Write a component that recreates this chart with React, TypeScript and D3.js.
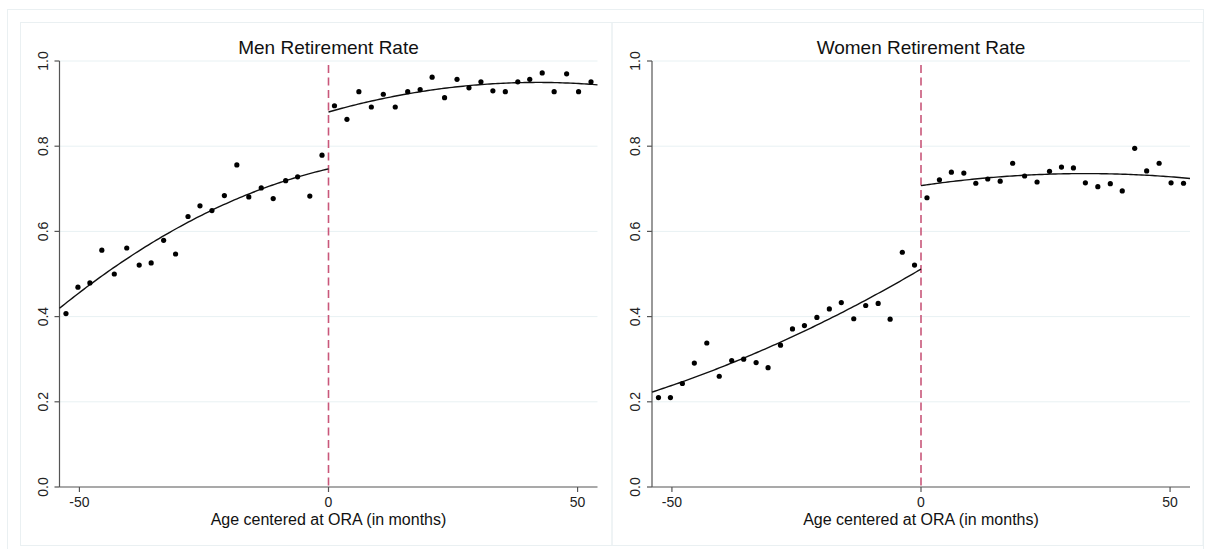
import React from "react";
import * as d3 from "d3";

const xLeft = [-52.7, -50.3, -47.9, -45.5, -43.0, -40.5, -38.0, -35.6, -33.1, -30.7, -28.2, -25.8, -23.4, -20.9, -18.4, -16.0, -13.5, -11.1, -8.6, -6.2, -3.75, -1.3];
const xRight = [1.2, 3.7, 6.1, 8.6, 11.0, 13.4, 15.9, 18.4, 20.8, 23.3, 25.8, 28.2, 30.6, 33.0, 35.5, 38.0, 40.4, 42.9, 45.3, 47.8, 50.2, 52.7];

const menBefore = [0.407, 0.469, 0.479, 0.556, 0.5, 0.561, 0.521, 0.526, 0.579, 0.547, 0.635, 0.66, 0.649, 0.684, 0.756, 0.681, 0.702, 0.677, 0.719, 0.728, 0.683, 0.779];
const menAfter = [0.895, 0.863, 0.928, 0.892, 0.922, 0.892, 0.928, 0.933, 0.962, 0.914, 0.957, 0.937, 0.951, 0.93, 0.928, 0.951, 0.957, 0.972, 0.928, 0.97, 0.928, 0.951];
const womenBefore = [0.21, 0.21, 0.243, 0.291, 0.338, 0.26, 0.297, 0.3, 0.292, 0.28, 0.333, 0.371, 0.379, 0.398, 0.418, 0.433, 0.395, 0.426, 0.431, 0.394, 0.551, 0.521];
const womenAfter = [0.679, 0.721, 0.739, 0.737, 0.713, 0.723, 0.718, 0.76, 0.73, 0.716, 0.741, 0.751, 0.749, 0.714, 0.705, 0.712, 0.695, 0.795, 0.742, 0.76, 0.714, 0.713];

const yTicks = [0, 0.2, 0.4, 0.6, 0.8, 1.0];
const xTicks = [-50, 0, 50];
const xDomain: [number, number] = [-54, 54];
const titles = ["Men Retirement Rate", "Women Retirement Rate"];
const xLabel = "Age centered at ORA (in months)";

function quadFit(xs: number[], ys: number[]) {
  // least squares y = a + b x + c x^2
  let s0 = 0, s1 = 0, s2 = 0, s3 = 0, s4 = 0, t0 = 0, t1 = 0, t2 = 0;
  xs.forEach((x, i) => {
    const y = ys[i];
    s0 += 1; s1 += x; s2 += x * x; s3 += x * x * x; s4 += x * x * x * x;
    t0 += y; t1 += x * y; t2 += x * x * y;
  });
  const M = [[s0, s1, s2, t0], [s1, s2, s3, t1], [s2, s3, s4, t2]];
  for (let i = 0; i < 3; i++) {
    for (let k = i + 1; k < 3; k++) {
      const f = M[k][i] / M[i][i];
      for (let j = i; j < 4; j++) M[k][j] -= f * M[i][j];
    }
  }
  const c = M[2][3] / M[2][2];
  const b = (M[1][3] - M[1][2] * c) / M[1][1];
  const a = (M[0][3] - M[0][1] * b - M[0][2] * c) / M[0][0];
  return (x: number) => a + b * x + c * x * x;
}

const FONT = "'Liberation Sans', Arial, Helvetica, sans-serif";
const AXIS = "#555";
const GRID = "#e8f1f3";
const FRAME = "#eaf0f2";

function Panel({ x0, x1, before, after, title }: { x0: number; x1: number; before: number[]; after: number[]; title: string }) {
  const xs = d3.scaleLinear().domain(xDomain).range([x0, x1]);
  const ys = d3.scaleLinear().domain([0, 1]).range([487, 61]);
  const fb = quadFit(xLeft, before);
  const fa = quadFit(xRight, after);
  const line = d3.line<number>().x((d) => xs(d[0])).y((d) => ys(d[1]));
  const sampB = d3.range(0, 101).map((i) => xDomain[0] + (0 - xDomain[0]) * i / 100);
  const sampA = d3.range(0, 101).map((i) => 0 + (xDomain[1] - 0) * i / 100);
  const lb = d3.line<number>().x((d) => xs(d)).y((d) => ys(fb(d)))(sampB) || "";
  const la = d3.line<number>().x((d) => xs(d)).y((d) => ys(fa(d)))(sampA) || "";
  void line;
  const cx = (x0 + x1) / 2;
  return (
    <g>
      {yTicks.filter((t) => t > 0).map((t) => (
        <line key={"g" + t} x1={x0} x2={x1} y1={ys(t)} y2={ys(t)} stroke={GRID} strokeWidth={1} />
      ))}
      <text x={cx} y={54} textAnchor="middle" fontSize={19} fontFamily={FONT} fill="#111">{title}</text>
      {/* axes */}
      <line x1={x0} x2={x0} y1={ys(1)} y2={ys(0)} stroke={AXIS} strokeWidth={1.2} />
      <line x1={x0} x2={x1} y1={ys(0)} y2={ys(0)} stroke={AXIS} strokeWidth={1.2} />
      {yTicks.map((t) => (
        <g key={"y" + t}>
          <line x1={x0 - 5} x2={x0} y1={ys(t)} y2={ys(t)} stroke={AXIS} strokeWidth={1.2} />
          <text transform={`translate(${x0 - 12},${ys(t)}) rotate(-90)`} textAnchor="middle" fontSize={14} fontFamily={FONT} fill="#222">{t.toFixed(1)}</text>
        </g>
      ))}
      {xTicks.map((t) => (
        <g key={"x" + t}>
          <line x1={xs(t)} x2={xs(t)} y1={ys(0)} y2={ys(0) + 5} stroke={AXIS} strokeWidth={1.2} />
          <text x={xs(t)} y={507} textAnchor="middle" fontSize={14} fontFamily={FONT} fill="#222">{t}</text>
        </g>
      ))}
      <text x={cx} y={525} textAnchor="middle" fontSize={16} fontFamily={FONT} fill="#111">{xLabel}</text>
      {/* cutoff */}
      <line x1={xs(0)} x2={xs(0)} y1={65} y2={ys(0)} stroke="#c9577a" strokeWidth={1.6} strokeDasharray="8,4.5" />
      {/* fits */}
      <path d={lb} fill="none" stroke="#111" strokeWidth={1.4} />
      <path d={la} fill="none" stroke="#111" strokeWidth={1.4} />
      {/* points */}
      {before.map((v, i) => (
        <circle key={"b" + i} cx={xs(xLeft[i])} cy={ys(v)} r={2.6} fill="#000" />
      ))}
      {after.map((v, i) => (
        <circle key={"a" + i} cx={xs(xRight[i])} cy={ys(v)} r={2.6} fill="#000" />
      ))}
    </g>
  );
}

export default function App() {
  return (
    <svg width={1210} height={549} style={{ position: "absolute", left: 0, top: 0, background: "#fff" }}>
      <rect x={0} y={0} width={1210} height={549} fill="#fff" />
      <rect x={7.5} y={9.5} width={1196} height={545} fill="none" stroke={FRAME} strokeWidth={1} />
      <rect x={20.5} y={22.5} width={591.5} height={523} fill="none" stroke={FRAME} strokeWidth={1} />
      <rect x={612} y={22.5} width={591} height={523} fill="none" stroke={FRAME} strokeWidth={1} />
      <Panel x0={59.5} x1={597.5} before={menBefore} after={menAfter} title={titles[0]} />
      <Panel x0={652} x1={1190} before={womenBefore} after={womenAfter} title={titles[1]} />
    </svg>
  );
}
